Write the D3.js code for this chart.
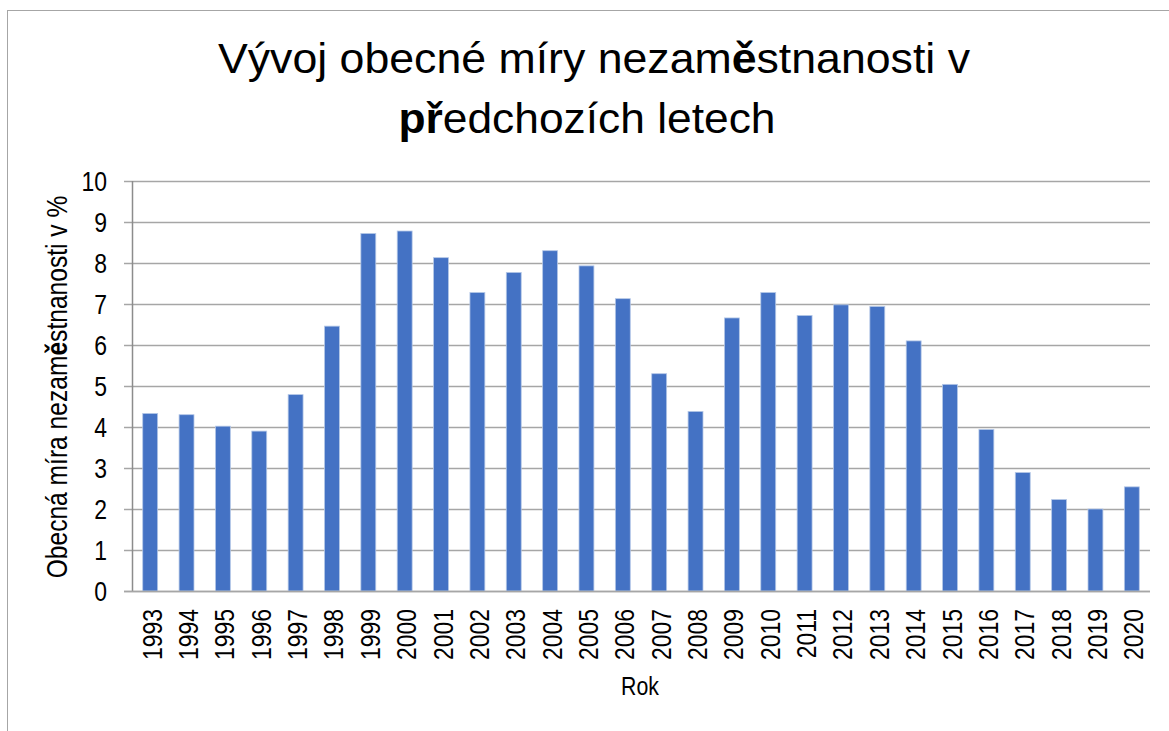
<!DOCTYPE html>
<html>
<head>
<meta charset="utf-8">
<script src="https://cdn.jsdelivr.net/npm/d3@7"></script>
<style>
  html, body { margin: 0; padding: 0; background: #ffffff; }
  svg { display: block; }
</style>
</head>
<body>
<script>
// Unemployment rate (%) by year
const years = ["1993","1994","1995","1996","1997","1998","1999","2000","2001","2002",
  "2003","2004","2005","2006","2007","2008","2009","2010","2011","2012",
  "2013","2014","2015","2016","2017","2018","2019","2020"];
const rates = [4.33, 4.30, 4.02, 3.90, 4.79, 6.46, 8.72, 8.78, 8.13, 7.28,
  7.77, 8.30, 7.93, 7.13, 5.30, 4.38, 6.66, 7.28, 6.72, 6.98,
  6.94, 6.10, 5.04, 3.94, 2.89, 2.23, 2.00, 2.54];
const yTicks = [0, 1, 2, 3, 4, 5, 6, 7, 8, 9, 10];

const W = 1169, H = 731;
const plot = { left: 132, right: 1150, top: 181, bottom: 591 };
const FONT = "'Liberation Sans', Arial, sans-serif";
const NARROW = 0.82; // horizontal squeeze for the condensed label face

const svg = d3.select("body").append("svg")
  .attr("width", W).attr("height", H);

// chart frame
svg.append("rect")
  .attr("x", 7.5).attr("y", 10.5)
  .attr("width", 1180).attr("height", 740)
  .attr("fill", "#ffffff")
  .attr("stroke", "#a6a6a6").attr("stroke-width", 1);

// title (two lines, some letters in bold)
const title = svg.append("g")
  .attr("font-family", FONT)
  .attr("font-size", 42)
  .attr("fill", "#000");
const t1 = title.append("text")
  .attr("x", 594).attr("y", 73).attr("text-anchor", "middle")
  .attr("textLength", 752).attr("lengthAdjust", "spacingAndGlyphs");
t1.append("tspan").text("Vývoj obecné míry nezam");
t1.append("tspan").attr("font-weight", "bold").text("ě");
t1.append("tspan").text("stnanosti v");
const t2 = title.append("text")
  .attr("x", 587).attr("y", 133).attr("text-anchor", "middle")
  .attr("textLength", 377).attr("lengthAdjust", "spacingAndGlyphs");
t2.append("tspan").attr("font-weight", "bold").text("př");
t2.append("tspan").text("edchozích letech");

const x = d3.scaleBand()
  .domain(years)
  .range([plot.left, plot.right])
  .paddingInner(0.59)
  .paddingOuter(0.295);

const y = d3.scaleLinear()
  .domain([0, 10])
  .range([plot.bottom, plot.top]);

// horizontal gridlines with short tick stubs on the left
svg.append("g")
  .selectAll("line")
  .data(yTicks)
  .join("line")
  .attr("x1", plot.left - 8).attr("x2", plot.right)
  .attr("y1", d => Math.round(y(d)) + 0.5)
  .attr("y2", d => Math.round(y(d)) + 0.5)
  .attr("stroke", "#a6a6a6")
  .attr("stroke-width", 1.5);

// vertical axis line
svg.append("line")
  .attr("x1", plot.left + 0.5).attr("x2", plot.left + 0.5)
  .attr("y1", plot.top).attr("y2", plot.bottom + 1)
  .attr("stroke", "#8c8c8c").attr("stroke-width", 1.5);

// bars
svg.append("g")
  .selectAll("rect")
  .data(rates)
  .join("rect")
  .attr("x", (d, i) => x(years[i]))
  .attr("width", x.bandwidth())
  .attr("y", d => y(d))
  .attr("height", d => y(0) - y(d))
  .attr("fill", "#4472c4")
  .attr("stroke", "#b4c7e7")
  .attr("stroke-width", 0.8);

// baseline drawn over the bar bottoms
svg.append("line")
  .attr("x1", plot.left - 8).attr("x2", plot.right)
  .attr("y1", Math.round(y(0)) + 0.5).attr("y2", Math.round(y(0)) + 0.5)
  .attr("stroke", "#a6a6a6").attr("stroke-width", 1.5);

// y tick labels
svg.append("g")
  .attr("font-family", FONT)
  .attr("font-size", 28)
  .selectAll("text")
  .data(yTicks)
  .join("text")
  .attr("transform", d => `translate(107,${y(d)}) scale(${NARROW},1)`)
  .attr("dy", "0.36em")
  .attr("text-anchor", "end")
  .text(d => d);

// x tick labels (rotated)
svg.append("g")
  .attr("font-family", FONT)
  .attr("font-size", 28)
  .selectAll("text")
  .data(years)
  .join("text")
  .attr("transform", d => `translate(${x(d) + x.bandwidth() / 2 + 11.5},609) rotate(-90) scale(${NARROW},1)`)
  .attr("text-anchor", "end")
  .text(d => d);

// axis titles
svg.append("text")
  .attr("transform", `translate(640,695) scale(${NARROW},1)`)
  .attr("text-anchor", "middle")
  .attr("font-family", FONT)
  .attr("font-size", 26)
  .text("Rok");

const yt = svg.append("text")
  .attr("transform", `translate(67,387) rotate(-90) scale(${NARROW},1)`)
  .attr("text-anchor", "middle")
  .attr("font-family", FONT)
  .attr("font-size", 30);
yt.append("tspan").text("Obecná míra nezam");
yt.append("tspan").attr("font-weight", "bold").text("ě");
yt.append("tspan").text("stnanosti v %");
</script>
</body>
</html>
